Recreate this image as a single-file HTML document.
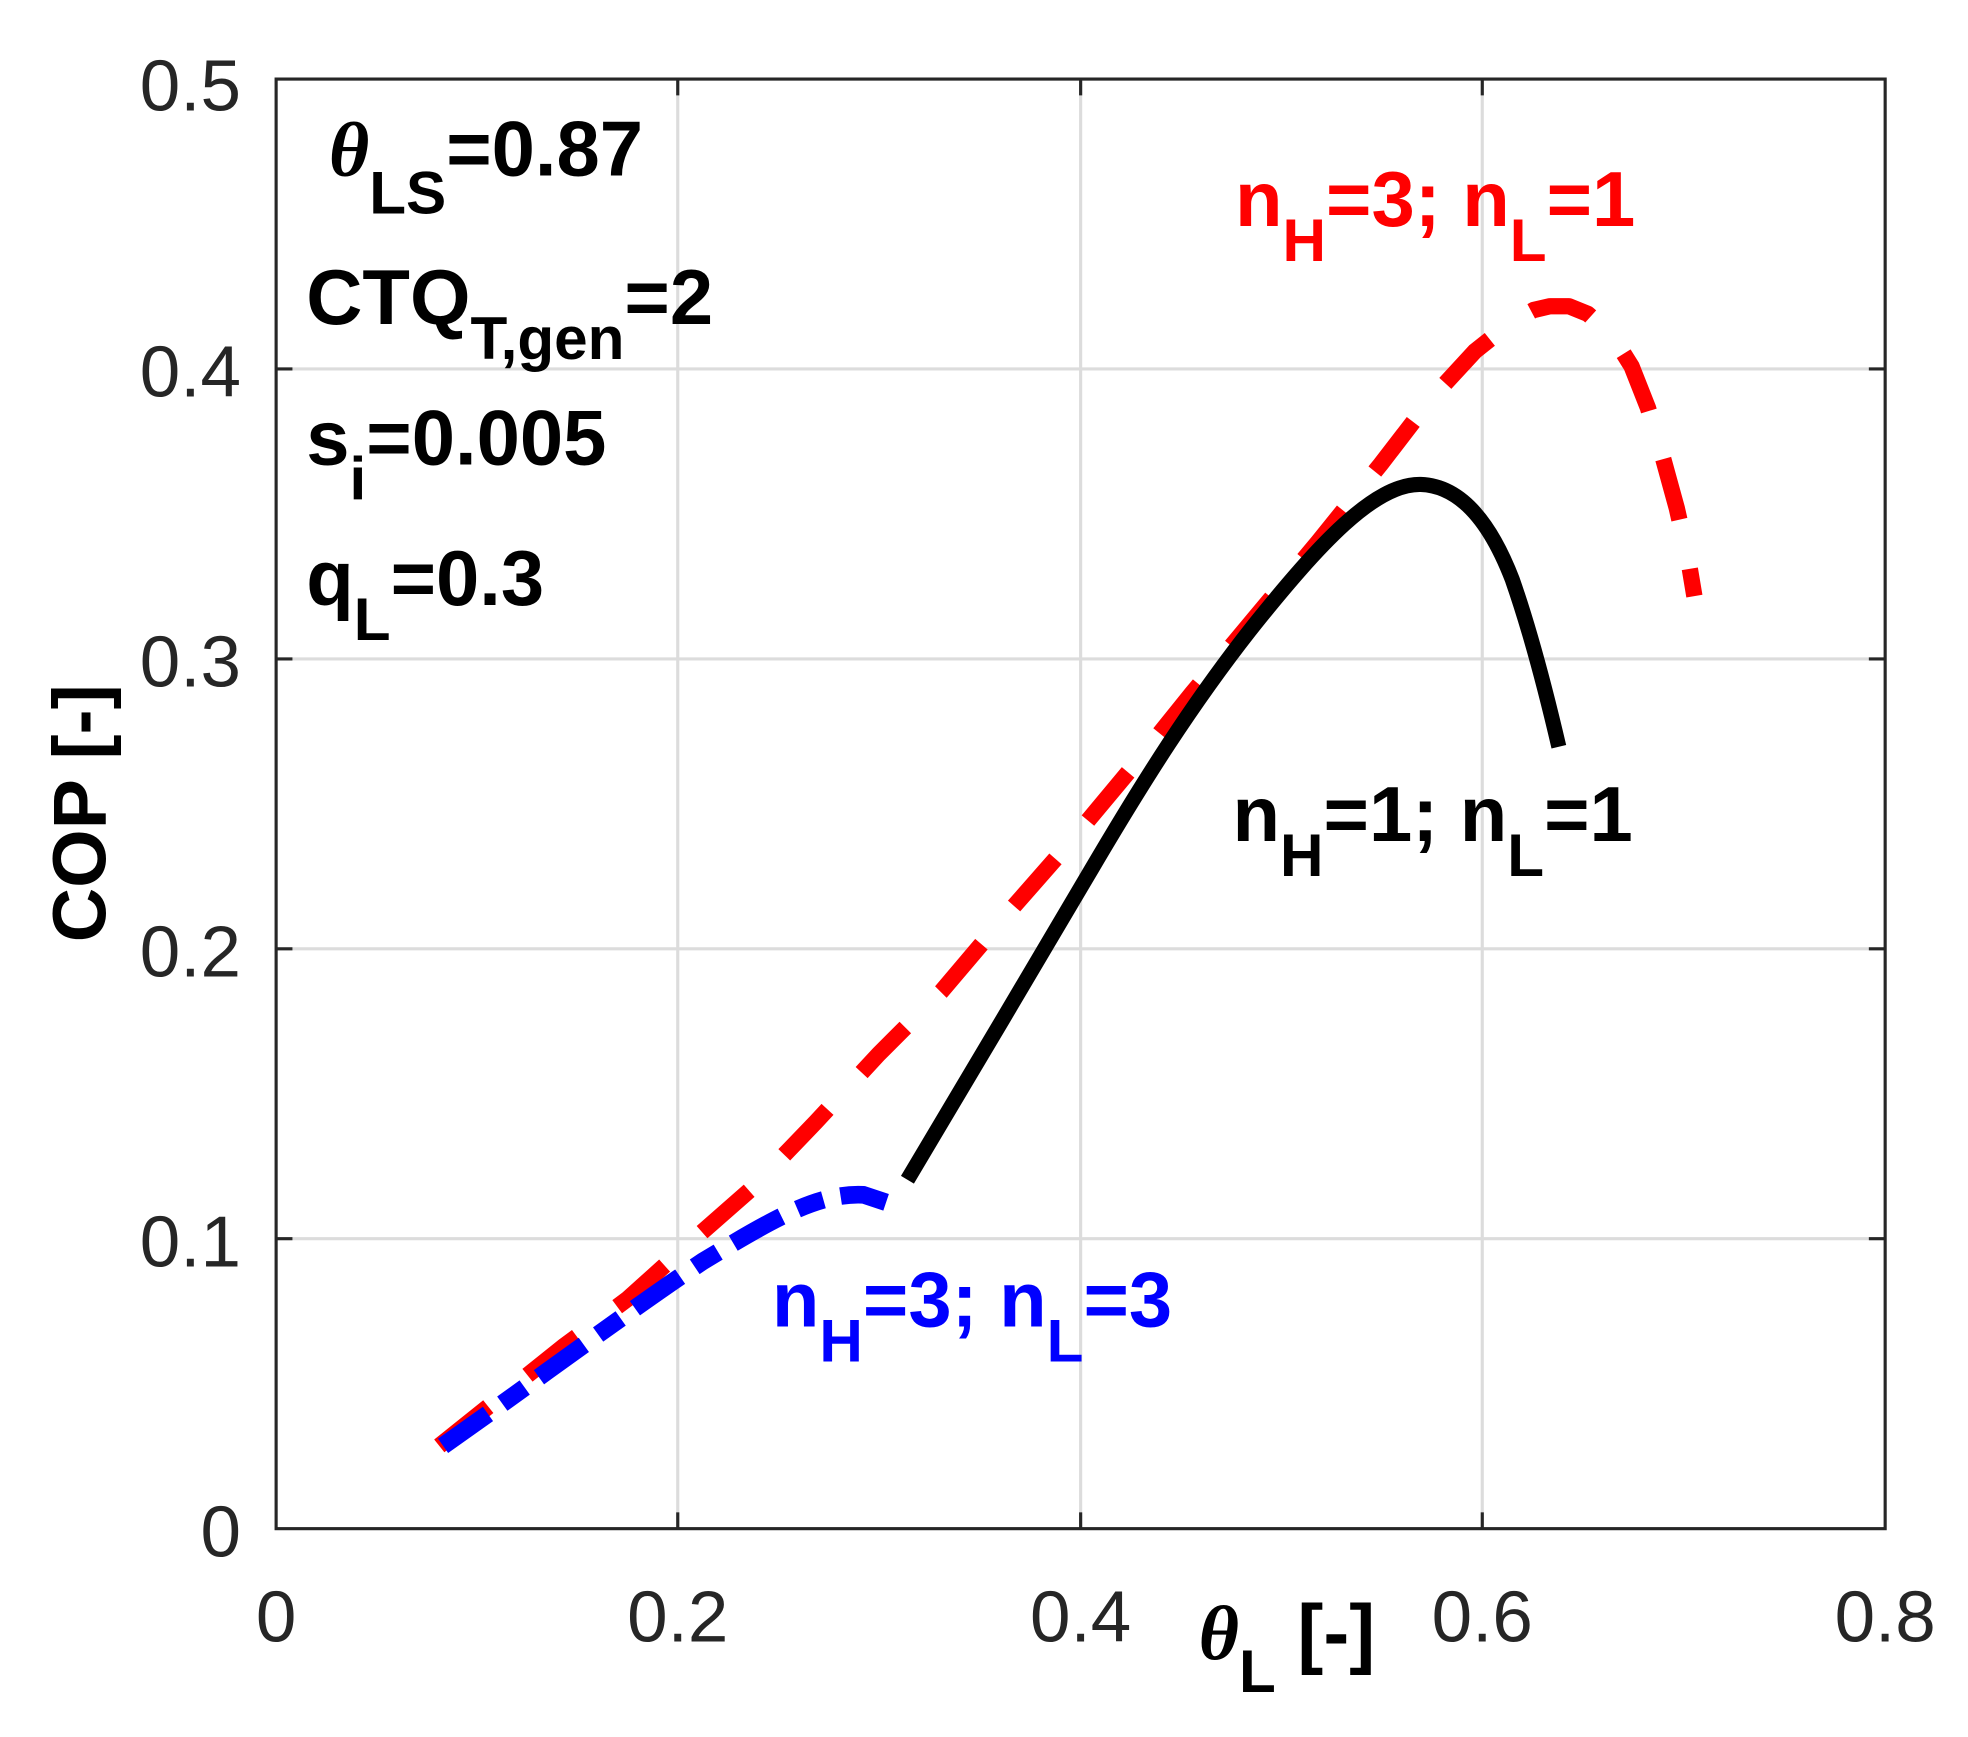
<!DOCTYPE html>
<html><head><meta charset="utf-8"><style>html,body{margin:0;padding:0;background:#fff}svg{display:block}</style></head><body>
<svg width="1968" height="1737" viewBox="0 0 1568 1384" preserveAspectRatio="none" xmlns="http://www.w3.org/2000/svg" font-family="Liberation Sans, sans-serif">
<rect width="1568" height="1384" fill="#fff"/>
<g stroke="#dcdcdc" stroke-width="2.5">
<line x1="540" y1="63" x2="540" y2="1218"/><line x1="861" y1="63" x2="861" y2="1218"/><line x1="1181" y1="63" x2="1181" y2="1218"/>
<line x1="220" y1="987" x2="1502" y2="987"/><line x1="220" y1="756" x2="1502" y2="756"/><line x1="220" y1="525" x2="1502" y2="525"/><line x1="220" y1="294" x2="1502" y2="294"/>
</g>
<rect x="220" y="63" width="1282" height="1155" fill="none" stroke="#262626" stroke-width="2.5"/>
<g stroke="#262626" stroke-width="2.5">
<line x1="540" y1="1218" x2="540" y2="1205"/><line x1="861" y1="1218" x2="861" y2="1205"/><line x1="1181" y1="1218" x2="1181" y2="1205"/>
<line x1="540" y1="63" x2="540" y2="76"/><line x1="861" y1="63" x2="861" y2="76"/><line x1="1181" y1="63" x2="1181" y2="76"/>
<line x1="220" y1="987" x2="233" y2="987"/><line x1="220" y1="756" x2="233" y2="756"/><line x1="220" y1="525" x2="233" y2="525"/><line x1="220" y1="294" x2="233" y2="294"/>
<line x1="1502" y1="987" x2="1489" y2="987"/><line x1="1502" y1="756" x2="1489" y2="756"/><line x1="1502" y1="525" x2="1489" y2="525"/><line x1="1502" y1="294" x2="1489" y2="294"/>
</g>
<g fill="#262626" font-size="58" text-anchor="end">
<text x="192" y="1240">0</text><text x="192" y="1009">0.1</text><text x="192" y="778">0.2</text><text x="192" y="547">0.3</text><text x="192" y="316">0.4</text><text x="192" y="88">0.5</text>
</g>
<g fill="#262626" font-size="58" text-anchor="middle">
<text x="220" y="1308">0</text><text x="540" y="1308">0.2</text><text x="861" y="1308">0.4</text><text x="1181" y="1308">0.6</text><text x="1502" y="1308">0.8</text>
</g>
<text transform="translate(84,648) rotate(-90)" text-anchor="middle" font-size="60" font-weight="bold" fill="#000">COP [-]</text>
<text x="955" y="1322" font-size="62" font-weight="bold" fill="#000"><tspan font-family="Liberation Serif, serif" font-style="italic">θ</tspan><tspan dy="26" font-size="48">L</tspan><tspan dy="-26"> [-]</tspan></text>
<g font-size="62" font-weight="bold" fill="#000">
<text x="262" y="140"><tspan font-family="Liberation Serif, serif" font-style="italic">θ</tspan><tspan dy="30" font-size="48">LS</tspan><tspan dy="-30">=0.87</tspan></text>
<text x="244" y="258">CTQ<tspan dy="28" font-size="48">T,gen</tspan><tspan dy="-28">=2</tspan></text>
<text x="244" y="370">s<tspan dy="28" font-size="48">i</tspan><tspan dy="-28">=0.005</tspan></text>
<text x="244" y="482">q<tspan dy="28" font-size="48">L</tspan><tspan dy="-28">=0.3</tspan></text>
<text x="982" y="670">n<tspan dy="28" font-size="48">H</tspan><tspan dy="-28">=1; n</tspan><tspan dy="28" font-size="48">L</tspan><tspan dy="-28">=1</tspan></text>
</g>
<text x="984" y="180" font-size="62" font-weight="bold" fill="#ff0000">n<tspan dy="28" font-size="48">H</tspan><tspan dy="-28">=3; n</tspan><tspan dy="28" font-size="48">L</tspan><tspan dy="-28">=1</tspan></text>
<text x="615" y="1057" font-size="62" font-weight="bold" fill="#0000ff">n<tspan dy="28" font-size="48">H</tspan><tspan dy="-28">=3; n</tspan><tspan dy="28" font-size="48">L</tspan><tspan dy="-28">=3</tspan></text>
<polyline points="350,1152 400,1112 450,1072 500,1035 550,990 600,946 650,894 700,840 750,790 800,731 850,674 900,614 950,552 1000,492 1050,432 1100,370 1140,318 1175,280 1205,256 1222,247 1235,244 1250,244 1265,250 1285,268 1300,292 1313,325 1325,365 1336,405 1345,445 1350,475" fill="none" stroke="#ff0000" stroke-width="13" stroke-dasharray="50 40" stroke-linejoin="round"/>
<path d="M723,940 C760,878 830,760 870,692 S950,560 1000,497 C1050,435 1095,385 1132,386 C1160,387 1185,410 1205,462 C1220,505 1232,552 1242,595" fill="none" stroke="#000" stroke-width="12"/>
<path d="M353,1152 C420,1105 500,1045 560,1005 C610,975 650,950 688,952 L706,958" fill="none" stroke="#0000ff" stroke-width="14" stroke-dasharray="44 14 22 14"/>
</svg>
</body></html>
